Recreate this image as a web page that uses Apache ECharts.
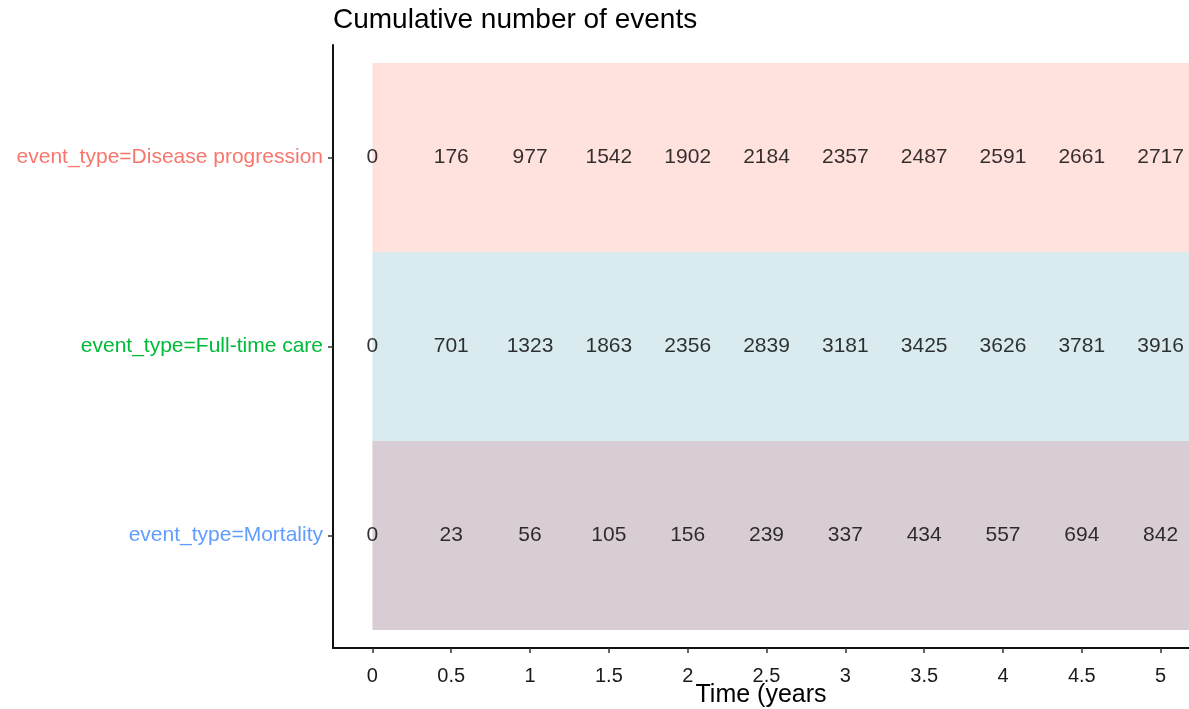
<!DOCTYPE html>
<html lang="en">
<head>
    <meta charset="UTF-8">
    <title>Cumulative number of events</title>
    <script src="https://cdn.jsdelivr.net/npm/echarts@6.0.0/dist/echarts.min.js"></script>
    <style>
        html, body { margin: 0; padding: 0; background: #fff; }
    </style>
</head>
<body>
    <div id="main" style="width: 1189px; height: 709px;"></div>
    <script type="text/javascript">
        const categories = ['event_type=Disease progression', 'event_type=Full-time care', 'event_type=Mortality'];
        const rowPositions = [1, 2, 3];
        const timePoints = [0, 0.5, 1, 1.5, 2, 2.5, 3, 3.5, 4, 4.5, 5];
        const diseaseProgression = [0, 176, 977, 1542, 1902, 2184, 2357, 2487, 2591, 2661, 2717];
        const fullTimeCare = [0, 701, 1323, 1863, 2356, 2839, 3181, 3425, 3626, 3781, 3916];
        const mortality = [0, 23, 56, 105, 156, 239, 337, 434, 557, 694, 842];

        const labelColors = ['#F8766D', '#00BA38', '#619CFF'];
        const bandColors = ['#FFE1DD', '#D9EBEE', '#D9CDD5'];
        const rows = [diseaseProgression, fullTimeCare, mortality];

        // Build the text points: [time, row, count]
        const textData = [];
        rows.forEach((row, r) => {
            row.forEach((v, i) => {
                textData.push([timePoints[i], rowPositions[r], v]);
            });
        });

        let myChart = echarts.init(document.getElementById('main'));

        let options = {
            animation: false,
            title: {
                text: 'Cumulative number of events',
                left: 328,
                top: 0,
                padding: [6, 5],
                textStyle: { fontFamily: 'Liberation Sans', fontSize: 28, fontWeight: 'normal', color: '#000' }
            },
            grid: { left: 333, right: 0, top: 45, bottom: 61, outerBoundsMode: 'none' },
            xAxis: {
                type: 'value',
                min: -0.25,
                max: 5.18,
                name: 'Time (years',
                nameLocation: 'middle',
                nameGap: 35,
                nameMoveOverlap: false,
                nameTextStyle: { fontFamily: 'Liberation Sans', fontSize: 25, color: '#000' },
                splitLine: { show: false },
                axisLine: { show: true, onZero: false, lineStyle: { color: '#111', width: 2 } },
                axisTick: { show: true, length: 5, customValues: timePoints, lineStyle: { color: '#333', width: 1.5 } },
                axisLabel: {
                    customValues: timePoints,
                    margin: 18,
                    fontFamily: 'Liberation Sans',
                    fontSize: 20,
                    color: '#1a1a1a'
                }
            },
            yAxis: {
                type: 'value',
                inverse: true,
                min: 0.405,
                max: 3.595,
                axisLine: { show: true, onZero: false, lineStyle: { color: '#111', width: 2 } },
                axisTick: { show: true, length: 5, customValues: rowPositions, lineStyle: { color: '#333', width: 1.5 } },
                splitLine: { show: false },
                axisLabel: {
                    customValues: rowPositions,
                    margin: 10,
                    fontFamily: 'Liberation Sans',
                    fontSize: 21,
                    formatter: (v) => categories[v - 1],
                    color: (v) => labelColors[Math.round(Number(v)) - 1] || labelColors[categories.indexOf(v)]
                }
            },
            series: [
                {
                    type: 'custom',
                    silent: true,
                    z: 1,
                    data: rowPositions.map((p, i) => [0, p, i]),
                    encode: { x: 0, y: 1 },
                    renderItem: function (params, api) {
                        const start = api.coord([api.value(0), api.value(1)]);
                        const bandH = api.size([0, 1])[1];
                        const right = params.coordSys.x + params.coordSys.width;
                        return {
                            type: 'rect',
                            shape: { x: start[0], y: start[1] - bandH / 2, width: right - start[0], height: bandH },
                            style: { fill: bandColors[api.value(2)] }
                        };
                    }
                },
                {
                    type: 'scatter',
                    silent: true,
                    z: 3,
                    symbolSize: 0,
                    data: textData,
                    label: {
                        show: true,
                        position: 'inside',
                        formatter: (p) => String(p.value[2]),
                        fontFamily: 'Liberation Sans',
                        fontSize: 21,
                        color: '#000'
                    }
                }
            ]
        };

        myChart.setOption(options);
    </script>
</body>
</html>
